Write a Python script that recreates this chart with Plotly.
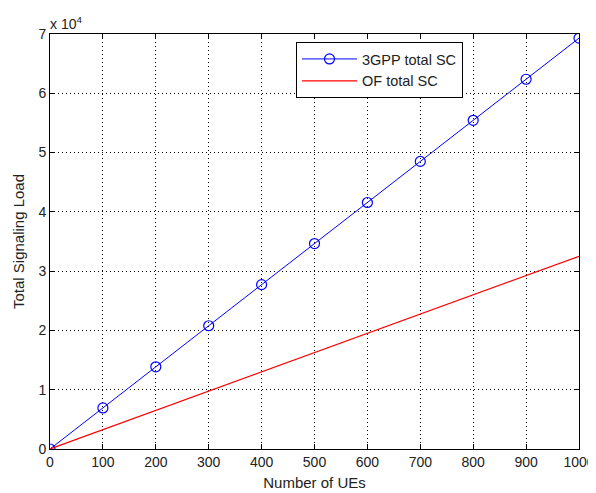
import plotly.graph_objects as go

ues = [0, 100, 200, 300, 400, 500, 600, 700, 800, 900, 1000]
gpp_total_sc = [0, 6930, 13860, 20790, 27720, 34650, 41580, 48510, 55440, 62370, 69300]
of_total_sc = [0, 3250, 6500, 9750, 13000, 16250, 19500, 22750, 26000, 29250, 32500]
x_ticks = list(range(0, 1001, 100))
y_tickvals = [0, 10000, 20000, 30000, 40000, 50000, 60000, 70000]
y_ticktext = ["0", "1", "2", "3", "4", "5", "6", "7"]

font = "Arial, Liberation Sans, Helvetica, sans-serif"

fig = go.Figure()
fig.add_trace(go.Scatter(
    x=ues, y=gpp_total_sc, mode="lines+markers", name="3GPP total SC",
    line=dict(color="#0000ff", width=1),
    marker=dict(symbol="circle-open", size=10, color="#0000ff", line=dict(width=1.2)),
))
fig.add_trace(go.Scatter(
    x=ues, y=of_total_sc, mode="lines", name="OF total SC",
    line=dict(color="#ff0000", width=1.2),
))

axis_common = dict(
    showline=True, linecolor="black", linewidth=1, mirror="ticks",
    ticks="inside", ticklen=5, tickcolor="black", tickwidth=1,
    showgrid=True, gridcolor="black", griddash="1px,3px", gridwidth=1,
    zeroline=False, automargin=False,
    tickfont=dict(family=font, size=14, color="#222222"),
)

fig.update_xaxes(range=[0, 1000], tickvals=x_ticks,
                 title=dict(text="Number of UEs", font=dict(family=font, size=15, color="#222222"), standoff=8),
                 **axis_common)
fig.update_yaxes(range=[0, 70000], tickvals=y_tickvals, ticktext=y_ticktext,
                 title=dict(text="Total Signaling Load", font=dict(family=font, size=15, color="#222222"), standoff=10),
                 **axis_common)

fig.add_annotation(
    x=0, y=1, xref="paper", yref="paper", xanchor="left", yanchor="bottom",
    text="x 10<sup>4</sup>", showarrow=False, yshift=0, xshift=-2,
    font=dict(family=font, size=14, color="#222222"),
)

# page body has an 8px margin, so the figure is drawn at (8, 8)
fig.update_layout(
    width=588, height=485,
    margin=dict(l=42, r=17, t=26, b=44),
    plot_bgcolor="white", paper_bgcolor="white",
    showlegend=True,
    legend=dict(
        x=(296 - 50) / 529, y=(449 - 42) / 415, xanchor="left", yanchor="top",
        bgcolor="white", bordercolor="black", borderwidth=1,
        font=dict(family=font, size=14.5, color="#222222"),
        itemwidth=55, entrywidth=118, tracegroupgap=0,
    ),
)

fig.write_html("out.html")
